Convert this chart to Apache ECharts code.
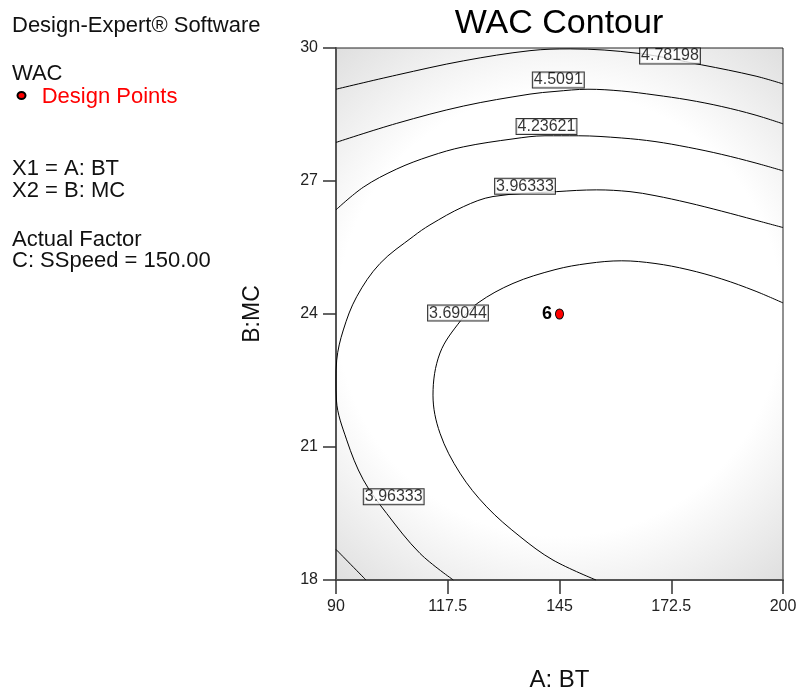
<!DOCTYPE html>
<html>
<head>
<meta charset="utf-8">
<script src="https://cdn.jsdelivr.net/npm/echarts@6/dist/echarts.min.js"></script>
<style>
html,body{margin:0;padding:0;background:#fff;}
#chart{width:798px;height:693px;}
</style>
</head>
<body>
<div id="chart"></div>
<script>
// ---- data ----
const xTicks = [90, 117.5, 145, 172.5, 200];
const yTicks = [18, 21, 24, 27, 30];

const contour478 = [[90,29.07],[104.94,29.39],[121.33,29.71],[137.74,29.94],[147.6,29.98],[164.32,29.88],[179.99,29.62],[193.11,29.37],[200,29.19]];
const contour451 = [[90,27.87],[104.94,28.30],[121.33,28.69],[137.74,28.96],[143.89,29.02],[152.01,29.07],[160.31,29.03],[168.5,28.94],[176.62,28.83],[184.92,28.68],[193.11,28.49],[200,28.29]];
const contour424 = [[90,26.35],[96.72,26.86],[104.94,27.27],[113.13,27.56],[121.33,27.77],[133.56,27.95],[141.43,28.02],[149.63,28.02],[160.31,27.97],[168.5,27.89],[176.7,27.76],[184.92,27.60],[193.11,27.41],[200,27.23]];
const contour424corner = [[90,18.69],[97.38,18]];
const contour396 = [[118.87,18],[110.67,18.60],[102.48,19.50],[96.72,20.26],[92.63,21.16],[90.1,22.06],[90,22.51],[90.17,22.96],[91.8,23.64],[95.09,24.39],[100.83,25.14],[109.02,25.75],[113.13,26.01],[121.33,26.42],[128.64,26.65],[144.31,26.76],[154.15,26.80],[162.35,26.76],[168.5,26.67],[176.62,26.51],[184.92,26.32],[193.11,26.12],[200,25.95]];
const contour369 = [[153.98,18],[143.40,18.45],[135.28,18.98],[127.09,19.65],[120.51,20.41],[115.59,21.31],[113.87,22.17],[115.59,23.12],[120.76,23.86],[124.94,24.25],[133.56,24.69],[143.89,25.00],[152.01,25.14],[160.31,25.20],[168.5,25.14],[176.62,25.00],[184.92,24.79],[193.11,24.52],[200,24.25]];

const contourLabelTexts = ['4.78198','4.5091','4.23621','3.96333','3.69044','3.96333'];
const contourLabelAt = [[172.19,29.82],[144.71,29.28],[141.8,28.23],[136.51,26.88],[120.02,24.02],[104.2,19.88]];

const designPoints = [[145, 24]];
const designPointLabels = ['6'];

const leftTexts = ['Design-Expert\u00AE Software','WAC','Design Points','X1 = A: BT','X2 = B: MC','Actual Factor','C: SSpeed = 150.00'];

// ---- chart ----
const FONT = '"Liberation Sans", Arial, Helvetica, sans-serif';
const chart = echarts.init(document.getElementById('chart'), null, {renderer:'canvas'});

function lineSeries(name, data){
  return {
    name: name, type:'line', data: data, smooth: 0.35, showSymbol:false, symbol:'none',
    lineStyle:{color:'#000', width:1}, silent:true, z:3, clip:true
  };
}

const labelData = contourLabelAt.map((p,i)=>[p[0], p[1], contourLabelTexts[i]]);

const leftY = [26, 73.5, 97, 169, 190.5, 239.5, 260.7];
const graphics = leftTexts.map((t,i)=>({
  type:'text',
  style:{
    text:t, x: i===2 ? 41.7 : 12, y: leftY[i],
    fill: i===2 ? '#f00' : '#111',
    font: '22px ' + FONT,
    align:'left', verticalAlign:'middle'
  }
}));
graphics.push({type:'ellipse', shape:{cx:21.5, cy:95.5, rx:4, ry:3.5}, style:{fill:'#f00', stroke:'#000', lineWidth:2}});
graphics.push({type:'text', style:{text:'WAC Contour', x:559, y:24, fill:'#000', font:'34px ' + FONT, align:'center', verticalAlign:'middle'}});

const option = {
  animation:false,
  backgroundColor:'#fff',
  graphic: graphics,
  grid:{
    left:336, top:48, width:447, height:532, show:true,
    outerBoundsMode:'none', containLabel:false,
    backgroundColor: new echarts.graphic.RadialGradient(0.5, 0.5, 0.8, [
      {offset:0, color:'#ffffff'},{offset:0.62, color:'#ffffff'},{offset:1, color:'#dcdcdc'}
    ]),
    borderColor:'#222', borderWidth:1
  },
  xAxis:{
    type:'value', min:90, max:200,
    axisLine:{show:true, onZero:false, lineStyle:{color:'#555', width:2}},
    axisTick:{show:true, inside:false, length:14, customValues:xTicks, lineStyle:{color:'#333', width:1.5}},
    axisLabel:{show:true, customValues:xTicks, margin:19, fontSize:16, color:'#222', fontFamily:FONT},
    splitLine:{show:false},
    name:'A: BT', nameLocation:'middle', nameGap:88,
    nameTextStyle:{fontSize:24, color:'#111', fontFamily:FONT}
  },
  yAxis:{
    type:'value', min:18, max:30, interval:3,
    axisLine:{show:true, onZero:false, lineStyle:{color:'#555', width:2}},
    axisTick:{show:true, inside:false, length:13, customValues:yTicks, lineStyle:{color:'#333', width:1.5}},
    axisLabel:{show:true, customValues:yTicks, margin:18, fontSize:16, color:'#222', fontFamily:FONT},
    splitLine:{show:false},
    name:'B:MC', nameLocation:'middle', nameGap:72, nameRotate:90,
    nameTextStyle:{fontSize:23, color:'#111', fontFamily:FONT}
  },
  series:[
    lineSeries('4.78198', contour478),
    lineSeries('4.5091', contour451),
    lineSeries('4.23621', contour424),
    lineSeries('4.23621b', contour424corner),
    lineSeries('3.96333', contour396),
    lineSeries('3.69044', contour369),
    {
      type:'scatter', data: labelData, symbolSize:1, silent:true, z:10,
      itemStyle:{color:'rgba(0,0,0,0)'},
      label:{
        show:true, position:'inside', formatter:(p)=>p.value[2],
        fontSize:16, color:'#000', fontFamily:FONT,
        backgroundColor:'#fff', borderColor:'#000', borderWidth:1,
        padding:[0,1,0,1], lineHeight:15
      }
    },
    {
      type:'scatter', data: designPoints, symbol:'circle', symbolSize:[8,10], silent:true, z:11,
      itemStyle:{color:'#f00', borderColor:'#000', borderWidth:1, opacity:1},
      label:{
        show:true, position:'left', distance:3,
        formatter:(p)=>designPointLabels[p.dataIndex],
        fontSize:18, fontWeight:'bold', color:'#000', fontFamily:FONT
      }
    }
  ]
};
chart.setOption(option);
</script>
</body>
</html>
